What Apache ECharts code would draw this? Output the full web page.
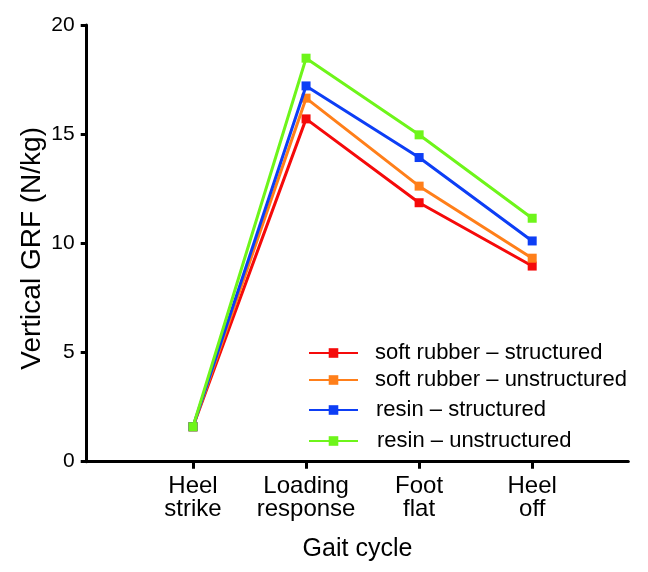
<!DOCTYPE html>
<html>
<head>
<meta charset="utf-8">
<script src="https://cdn.jsdelivr.net/npm/echarts@6/dist/echarts.min.js"></script>
<style>html,body{margin:0;padding:0;background:#fff;}#c{width:648px;height:572px;}</style>
</head>
<body>
<div id="c"></div>
<script>
var categories = ['Heel\nstrike', 'Loading\nresponse', 'Foot\nflat', 'Heel\noff'];
var seriesNames = ['soft rubber \u2013 structured', 'soft rubber \u2013 unstructured', 'resin \u2013 structured', 'resin \u2013 unstructured'];
var softRubberStructured = [1.6, 15.7, 11.86, 8.96];
var softRubberUnstructured = [1.6, 16.65, 12.62, 9.32];
var resinStructured = [1.6, 17.21, 13.93, 10.11];
var resinUnstructured = [1.6, 18.48, 14.97, 11.15];
var yTicks = [0, 5, 10, 15, 20];

var colors = ['#f50a0a', '#ff7f1a', '#0d3ef5', '#6ef51a'];
var allValues = [softRubberStructured, softRubberUnstructured, resinStructured, resinUnstructured];
var font = 'Liberation Sans, Arial, sans-serif';
var xPositions = categories.map(function (c, i) { return i + 1; });

var series = allValues.map(function (vals, s) {
  return {
    name: seriesNames[s],
    type: 'line',
    data: vals.map(function (v, i) { return [xPositions[i], v]; }),
    symbol: 'rect',
    symbolSize: 9,
    lineStyle: { color: colors[s], width: 3 },
    itemStyle: { color: colors[s] },
    z: 2 + s
  };
});

var legendTops = [337, 364, 394, 425];
var legendLefts = [303, 303, 303, 303];
var legendPad = [12, 12, 13, 14];
var legends = seriesNames.map(function (n, s) {
  return {
    data: [n],
    left: legendLefts[s],
    top: legendTops[s],
    orient: 'vertical',
    itemWidth: 49,
    itemHeight: 12,
    selectedMode: false,
    textStyle: { fontFamily: font, fontSize: 22, color: '#000', padding: [0, 0, 0, legendPad[s]] }
  };
});

var chart = echarts.init(document.getElementById('c'), null, { renderer: 'canvas' });
chart.setOption({
  animation: false,
  backgroundColor: '#fff',
  color: colors,
  grid: { left: 86.7, right: 19.7, top: 25, bottom: 110.3 },
  legend: legends,
  xAxis: {
    type: 'value',
    min: 0.06,
    max: 4.85,
    name: 'Gait cycle',
    nameLocation: 'middle',
    nameGap: 75,
    nameMoveOverlap: false,
    nameTextStyle: { fontFamily: font, fontSize: 25, color: '#000' },
    axisLine: { show: true, lineStyle: { color: '#000', width: 3 } },
    axisTick: { show: true, customValues: xPositions, length: 7, lineStyle: { color: '#000', width: 3 } },
    axisLabel: {
      customValues: xPositions,
      margin: 13,
      fontFamily: font,
      fontSize: 24,
      lineHeight: 23,
      color: '#000',
      formatter: function (v) { return categories[Math.round(v) - 1] || ''; }
    },
    splitLine: { show: false }
  },
  yAxis: {
    type: 'value',
    min: yTicks[0],
    max: yTicks[yTicks.length - 1],
    interval: 5,
    name: 'Vertical GRF (N/kg)',
    nameLocation: 'middle',
    nameGap: 40,
    nameMoveOverlap: false,
    nameTextStyle: { fontFamily: font, fontSize: 28, color: '#000', padding: [0, 10, 0, 0] },
    axisLine: { show: true, lineStyle: { color: '#000', width: 3 } },
    axisTick: { show: true, length: 6, lineStyle: { color: '#000', width: 3 } },
    axisLabel: { margin: 12, fontFamily: font, fontSize: 21, color: '#000' },
    splitLine: { show: false }
  },
  series: series
});
</script>
</body>
</html>
